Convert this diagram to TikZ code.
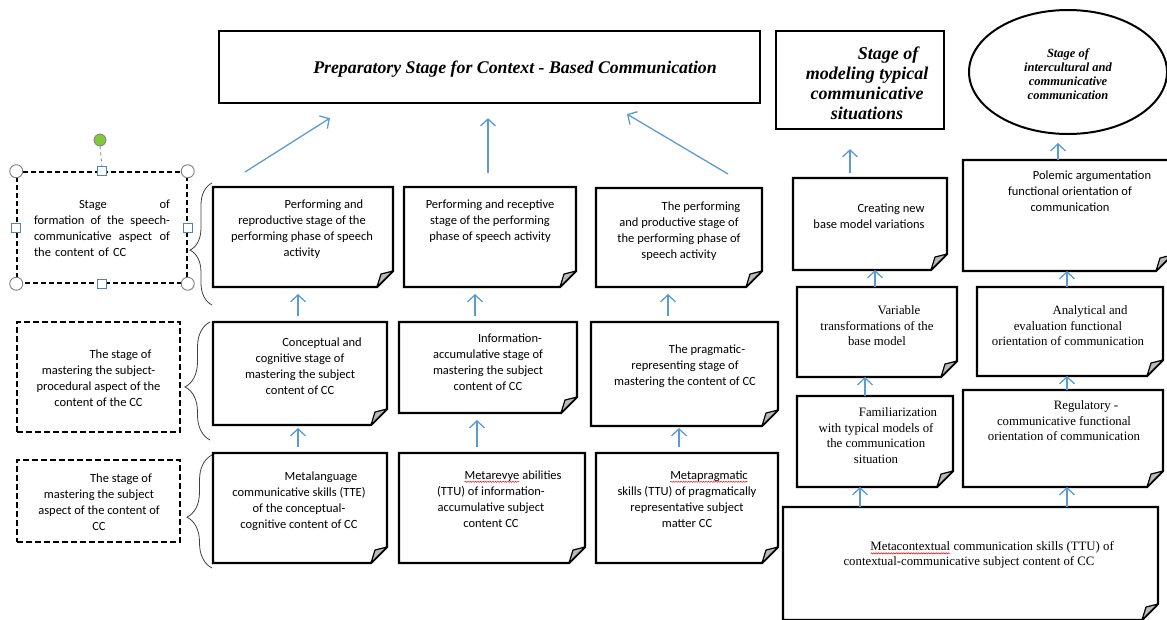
\documentclass[tikz,border=0pt]{standalone}
\usepackage{fontspec}
\setmainfont{Carlito}
\newfontfamily\tnr{Liberation Serif}
\usetikzlibrary{arrows.meta,shapes.geometric,decorations.pathreplacing,decorations.pathmorphing}
\definecolor{arrblue}{RGB}{91,155,213}
\definecolor{handleblue}{RGB}{79,129,189}
\definecolor{handlegreen}{RGB}{130,200,60}
\newcommand\firstind{\hspace*{44pt}}
\newcommand\sqw[1]{\tikz[baseline=(sqwn.base)]{\node[inner sep=0pt,outer sep=0pt] (sqwn) {#1};\draw[red,line width=0.5pt,decorate,decoration={snake,amplitude=0.6pt,segment length=2.5pt}] ([yshift=-2.5pt]sqwn.base west) -- ([yshift=-2.5pt]sqwn.base east);}}
\tikzset{
 boxshape/.style={rectangle, inner sep=0pt, outer sep=0pt},
 noteline/.style={draw=black, line width=2.2pt, line join=miter},
 foldline/.style={draw=black, fill=gray!55, line width=1.2pt, line join=round},
 cal/.style={font=\fontsize{12.5pt}{16pt}\selectfont, align=center, inner sep=0pt},
 tnrtext/.style={font=\tnr\fontsize{12.8pt}{15.5pt}\selectfont, align=center, inner sep=0pt},
 arr/.style={draw=arrblue, line width=1.3pt, -{Straight Barb[length=7pt,width=15pt]}},
 dashbox/.style={rectangle, draw=black, line width=2pt, dash pattern=on 6pt off 3pt, inner sep=0pt},
 selbox/.style={rectangle, draw=black, line width=1.5pt, dash pattern=on 5pt off 3pt, inner sep=0pt},
 bracestyle/.style={draw=black!75, line width=0.8pt, decorate, decoration={brace, amplitude=22pt, aspect=0.45}},
 bigrect/.style={rectangle, draw=black, line width=2.2pt, inner sep=0pt},
 handlesq/.style={rectangle, draw=handleblue, fill=white, line width=0.9pt, minimum size=9pt, inner sep=0pt},
 handlec/.style={draw=gray, fill=white, line width=0.9pt},
}
\newcommand\notebox[5]{%
  \node[boxshape, minimum width={#4pt-#2pt}, minimum height={#5pt-#3pt}] (#1) at ({(#2+#4)/2},{(#3+#5)/2}) {};
  \draw[noteline] (#1.north west) -- (#1.north east) -- ([yshift=16pt]#1.south east) -- ([xshift=-16pt]#1.south east) -- (#1.south west) -- cycle;
  \filldraw[foldline] ([xshift=-16pt]#1.south east) .. controls ([xshift=-14pt,yshift=7pt]#1.south east) .. ([xshift=-12pt,yshift=13pt]#1.south east) -- ([yshift=16pt]#1.south east) -- cycle;
}
\begin{document}
\begin{tikzpicture}[x=1pt,y=-1pt]
\useasboundingbox (0,0) rectangle (1167,619);
\clip (0,0) rectangle (1167,619);

% top boxes
\node[bigrect, minimum width=541pt, minimum height=72pt] (title) at (489.5,67) {};
\node[inner sep=0pt, font=\tnr\bfseries\itshape\fontsize{17.8pt}{20pt}\selectfont] (titlet) at (515,69) {Preparatory Stage for Context - Based Communication};
\node[bigrect, minimum width=168pt, minimum height=98pt] (model) at (860,80) {};
\node[inner sep=0pt, align=center, font=\tnr\bfseries\itshape\fontsize{18pt}{20pt}\selectfont] (modelt) at (867,83) {\hspace*{42pt}Stage of\\modeling typical\\communicative\\situations};
\node[ellipse, draw=black, line width=2pt, minimum width=198pt, minimum height=124pt, inner sep=0pt] (ell) at (1068,72) {};
\node[inner sep=0pt, align=center, font=\tnr\bfseries\itshape\fontsize{12.5pt}{14pt}\selectfont] (ellt) at (1068,74) {Stage of\\intercultural and\\communicative\\communication};

% left dashed boxes
\node[selbox, minimum width=170pt, minimum height=111pt] (L1) at (102,227.5) {};
\node[inner sep=0pt, align=left, text width=136pt, font=\fontsize{12.5pt}{16pt}\selectfont] (L1t) at (102,228) {\makebox[136pt][l]{\hspace*{45pt}Stage\hfill of}\\\makebox[136pt][l]{formation\hfill of\hfill the\hfill speech-}\\\makebox[136pt][l]{communicative\hfill aspect\hfill of}\\the content of CC};
\node[dashbox, minimum width=163pt, minimum height=110pt] (L2) at (98.5,377) {};
\node[cal] (L2t) at (98.5,378) {\firstind The stage of\\mastering the subject-\\procedural aspect of the\\content of the CC};
\node[dashbox, minimum width=163pt, minimum height=82pt] (L3) at (98.5,501) {};
\node[cal] (L3t) at (99,502) {\firstind The stage of\\mastering the subject\\aspect of the content of\\CC};

% selection handles
\node[circle, draw=gray, fill=handlegreen, line width=0.8pt, minimum size=12pt, inner sep=0pt] (rot) at (100,140) {};
\node[handlesq] (hN) at (L1.north) {};
\draw[gray, line width=0.8pt, dashed] (rot.south) -- (hN.north);
\node[handlesq] (hS) at (L1.south) {};
\node[handlesq] (hW) at (L1.west) {};
\node[handlesq] (hE) at (L1.east) {};
\draw[handlec] (L1.north west) circle[radius=6.5pt];
\draw[handlec] (L1.north east) circle[radius=6.5pt];
\draw[handlec] (L1.south west) circle[radius=6.5pt];
\draw[handlec] (L1.south east) circle[radius=6.5pt];

% braces
\draw[bracestyle] (212,305) -- (212,183);
\draw[bracestyle, decoration={brace, amplitude=25pt, aspect=0.45}] (210,440) -- (210,322);
\draw[bracestyle, decoration={brace, amplitude=25pt, aspect=0.45}] (212,568) -- (212,455);

% note boxes left
\notebox{A1}{213}{187}{393}{287}
\notebox{A2}{404}{187}{576}{287}
\notebox{A3}{596}{188}{762}{287}
\notebox{B1}{213}{322}{387}{425}
\notebox{B2}{399}{322}{577}{413}
\notebox{B3}{591}{322}{778}{426}
\notebox{C1}{213}{453}{387}{563}
\notebox{C2}{399}{453}{585}{563}
\notebox{C3}{596}{453}{778}{563}

\node[cal] (A1t) at (302,229) {\firstind Performing and\\reproductive stage of the\\performing phase of speech\\activity};
\node[cal] (A2t) at (490,221) {Performing and receptive\\stage of the performing\\phase of speech activity};
\node[cal] (A3t) at (679,231) {\firstind The performing\\and productive stage of\\the performing phase of\\speech activity};
\node[cal] (B1t) at (300,366) {\firstind Conceptual and\\cognitive stage of\\mastering the subject\\content of CC};
\node[cal] (B2t) at (488,362) {\firstind Information-\\accumulative stage of\\mastering the subject\\content of CC};
\node[cal] (B3t) at (685,366) {\firstind The pragmatic-\\representing stage of\\mastering the content of CC};
\node[cal] (C1t) at (299,501) {\firstind Metalanguage\\communicative skills (TTE)\\of the conceptual-\\cognitive content of CC};
\node[cal] (C2t) at (491,499) {\firstind\sqw{Metarevye} abilities\\(TTU) of information-\\accumulative subject\\content CC};
\node[cal] (C3t) at (687,499) {\firstind\sqw{Metapragmatic}\\skills (TTU) of pragmatically\\representative subject\\matter CC};

% note boxes right
\notebox{CR}{793}{178}{947}{270}
\notebox{PO}{963}{160}{1172}{271}
\notebox{VA}{797}{287}{957}{377}
\notebox{AN}{977}{287}{1163}{376}
\notebox{FA}{797}{396}{953}{487}
\notebox{RE}{963}{390}{1163}{487}
\notebox{ME}{783}{507}{1158}{620}

\node[cal] (CRt) at (869,216) {\firstind Creating new\\base model variations};
\node[cal] (POt) at (1070,191) {\firstind Polemic argumentation\\functional orientation of\\communication};
\node[tnrtext] (VAt) at (877,326) {\firstind Variable\\transformations of the\\base model};
\node[tnrtext] (ANt) at (1068,326) {\firstind Analytical and\\evaluation functional\\orientation of communication};
\node[tnrtext] (FAt) at (876,435.5) {\firstind Familiarization\\with typical models of\\the communication\\situation};
\node[tnrtext] (REt) at (1064,421) {\firstind Regulatory -\\communicative functional\\orientation of communication};
\node[tnrtext, font=\tnr\fontsize{12.8pt}{14.5pt}\selectfont] (MEt) at (969,555) {\hspace*{46pt}\sqw{Metacontextual} communication skills (TTU) of\\contextual-communicative subject content of CC};

% arrows left
\draw[arr] ([xshift=-58pt,yshift=15pt]A1.north) -- ([xshift=-159.5pt,yshift=-14pt]title.south);
\draw[arr] ([xshift=-2pt,yshift=14pt]A2.north) -- ([xshift=-1.5pt,yshift=-14pt]title.south);
\draw[arr] ([xshift=49pt,yshift=14pt]A3.north) -- ([xshift=137.5pt,yshift=-10pt]title.south);
\draw[arr] ([xshift=-2pt,yshift=6pt]B1.north) -- ([xshift=-5pt,yshift=-7pt]A1.south);
\draw[arr] ([xshift=-13pt,yshift=6pt]B2.north) -- ([xshift=-15pt,yshift=-7pt]A2.south);
\draw[arr] ([xshift=-16.5pt,yshift=6pt]B3.north) -- ([xshift=-11pt,yshift=-7pt]A3.south);
\draw[arr] ([xshift=-2pt,yshift=6pt]C1.north) -- ([xshift=-2pt,yshift=-3pt]B1.south);
\draw[arr] ([xshift=-15pt,yshift=6pt]C2.north) -- ([xshift=-11pt,yshift=-7pt]B2.south);
\draw[arr] ([xshift=-8pt,yshift=6pt]C3.north) -- ([xshift=-5.5pt,yshift=-2pt]B3.south);

% arrows right
\draw[arr] ([xshift=-20pt,yshift=5pt]CR.north) -- ([xshift=-10pt,yshift=-19pt]model.south);
\draw[arr] ([xshift=-2pt]VA.north) -- ([xshift=5pt]CR.south);
\draw[arr] ([xshift=-10pt]FA.north) -- ([xshift=-12pt]VA.south);
\draw[arr] ([xshift=-110.5pt]ME.north) -- ([xshift=-15pt]FA.south);
\draw[arr] ([xshift=-9.5pt]PO.north) -- ([xshift=-10pt,yshift=-8pt]ell.south);
\draw[arr] ([xshift=-3pt]AN.north) -- ([xshift=-0.5pt]PO.south);
\draw[arr] ([xshift=4pt]RE.north) -- ([xshift=-3pt]AN.south);
\draw[arr] ([xshift=96.5pt]ME.north) -- ([xshift=4pt]RE.south);
\end{tikzpicture}
\end{document}
